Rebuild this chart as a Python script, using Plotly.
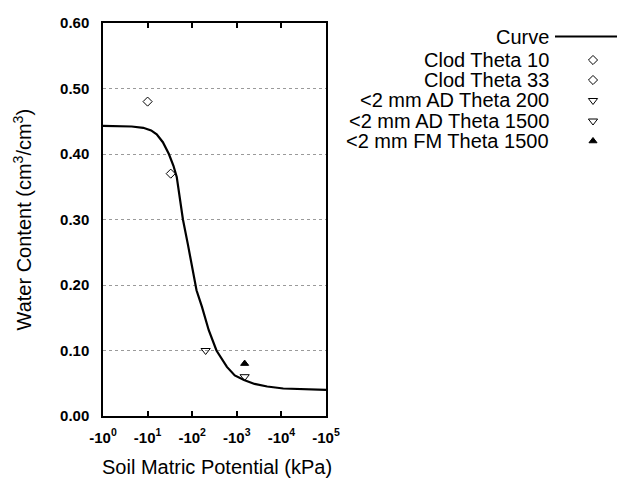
import plotly.graph_objects as go

# ---------------- data ----------------
curve_kpa = [1, 2, 4.4, 8, 12, 16, 22, 30, 38, 45, 54, 62, 80, 100, 125, 165,
             235, 350, 600, 900, 1450, 2500, 4800, 11000, 30000, 100000]
curve_theta = [0.443, 0.443, 0.442, 0.440, 0.436, 0.430, 0.418, 0.400, 0.382,
               0.365, 0.330, 0.300, 0.262, 0.228, 0.192, 0.167, 0.131, 0.100,
               0.075, 0.062, 0.055, 0.049, 0.045, 0.042, 0.041, 0.040]

clod10_kpa, clod10_theta = [10], [0.48]
clod33_kpa, clod33_theta = [33], [0.37]
ad200_kpa, ad200_theta = [200], [0.10]
ad1500_kpa, ad1500_theta = [1500], [0.06]
fm1500_kpa, fm1500_theta = [1500], [0.08]

x_tickvals = [1, 10, 100, 1000, 10000, 100000]
x_ticktext = ["-10<sup>0</sup>", "-10<sup>1</sup>", "-10<sup>2</sup>",
              "-10<sup>3</sup>", "-10<sup>4</sup>", "-10<sup>5</sup>"]
y_tickvals = [0.0, 0.1, 0.2, 0.3, 0.4, 0.5, 0.6]

legend_names = ["Curve", "Clod Theta 10", "Clod Theta 33", "<2 mm AD Theta 200",
                "<2 mm AD Theta 1500", "<2 mm FM Theta 1500"]

# ---------------- styles ----------------
FONT = "Liberation Sans, Arial, sans-serif"
W, H = 640, 480
PL, PR, PT, PB = 103, 326, 23, 416

sym = {
    "Clod Theta 10": dict(symbol="diamond-open", size=7, color="black", line=dict(width=1, color="black")),
    "Clod Theta 33": dict(symbol="diamond-open", size=7, color="black", line=dict(width=1, color="black")),
    "<2 mm AD Theta 200": dict(symbol="triangle-down-open", size=8, color="black", line=dict(width=1, color="black")),
    "<2 mm AD Theta 1500": dict(symbol="triangle-down-open", size=8, color="black", line=dict(width=1, color="black")),
    "<2 mm FM Theta 1500": dict(symbol="triangle-up", size=7, color="black", line=dict(width=1, color="black")),
}

fig = go.Figure()

fig.add_trace(go.Scatter(x=curve_kpa, y=curve_theta, mode="lines",
                         line=dict(color="black", width=2.2), showlegend=False))
for name, xs, ys in [("Clod Theta 10", clod10_kpa, clod10_theta),
                     ("Clod Theta 33", clod33_kpa, clod33_theta),
                     ("<2 mm AD Theta 200", ad200_kpa, ad200_theta),
                     ("<2 mm AD Theta 1500", ad1500_kpa, ad1500_theta),
                     ("<2 mm FM Theta 1500", fm1500_kpa, fm1500_theta)]:
    fig.add_trace(go.Scatter(x=xs, y=ys, mode="markers", marker=sym[name],
                             showlegend=False, name=name))

# ---------------- manual legend (pixel overlay axes in legend region) ----------------
LX0, LX1 = 340, 640
LY0, LY1 = 20, 160
row_y = [36.5, 60, 80, 100.5, 121, 141]
text_right = 551
sym_x = 593
fig.add_trace(go.Scatter(x=[555, 617], y=[row_y[0], row_y[0]], mode="lines",
                         line=dict(color="black", width=2), xaxis="x2", yaxis="y2",
                         showlegend=False, hoverinfo="skip"))
for name, ry in zip(legend_names[1:], row_y[1:]):
    fig.add_trace(go.Scatter(x=[sym_x], y=[ry], mode="markers", marker=sym[name],
                             xaxis="x2", yaxis="y2", showlegend=False, hoverinfo="skip"))


def px(x):
    return x / W


def py(y):
    return 1 - y / H


annotations = []
for name, ry in zip(legend_names, row_y):
    annotations.append(dict(x=px(text_right), y=py(ry), xref="paper", yref="paper",
                            text=name.replace("<", "&lt;"),
                            showarrow=False, xanchor="right", yanchor="middle",
                            font=dict(family=FONT, size=20, color="black")))
annotations.append(dict(x=px((PL + PR) / 2 + 2), y=py(467), xref="paper", yref="paper",
                        text="Soil Matric Potential (kPa)", showarrow=False,
                        xanchor="center", yanchor="middle",
                        font=dict(family=FONT, size=20, color="black")))
annotations.append(dict(x=px(22), y=py((PT + PB) / 2), xref="paper", yref="paper",
                        text="Water Content (cm<sup>3</sup>/cm<sup>3</sup>)", showarrow=False,
                        textangle=-90, xanchor="center", yanchor="middle",
                        font=dict(family=FONT, size=20, color="black")))

xd = [PL / W, PR / W]
yd = [1 - PB / H, 1 - PT / H]

fig.update_layout(
    width=W, height=H, margin=dict(l=0, r=0, t=0, b=0, pad=0, autoexpand=False),
    paper_bgcolor="white", plot_bgcolor="rgba(0,0,0,0)", showlegend=False,
    xaxis=dict(type="log", range=[0, 5], domain=xd, tickvals=x_tickvals, ticktext=x_ticktext,
               ticks="inside", ticklen=5, tickwidth=1.5, tickcolor="black", mirror="ticks",
               showline=True, linecolor="black", linewidth=1.5, showgrid=False, zeroline=False,
               tickfont=dict(family=FONT, size=15, color="black", weight="bold"),
               ticklabelstandoff=7, anchor="y", automargin=False),
    yaxis=dict(range=[0, 0.6], domain=yd, tickvals=y_tickvals, tickformat=".2f",
               ticks="", showline=True, linecolor="black", linewidth=1.5, mirror=True,
               showgrid=True, gridcolor="#9a9a9a", griddash="dot", gridwidth=1, zeroline=False,
               tickfont=dict(family=FONT, size=15, color="black", weight="bold"),
               ticklabelstandoff=9, anchor="x", automargin=False),
    yaxis3=dict(range=[0, 0.6], overlaying="y", side="right", tickvals=y_tickvals,
                ticks="inside", ticklen=5, tickwidth=1.5, tickcolor="black",
                showticklabels=False, showgrid=False, zeroline=False, showline=False,
                anchor="x", automargin=False),
    xaxis2=dict(range=[LX0, LX1], domain=[px(LX0), px(LX1)], visible=False, anchor="y2",
                fixedrange=True, automargin=False),
    yaxis2=dict(range=[LY1, LY0], domain=[py(LY1), py(LY0)], visible=False, anchor="x2",
                fixedrange=True, automargin=False),
    annotations=annotations,
)

fig.write_html("out.html")
